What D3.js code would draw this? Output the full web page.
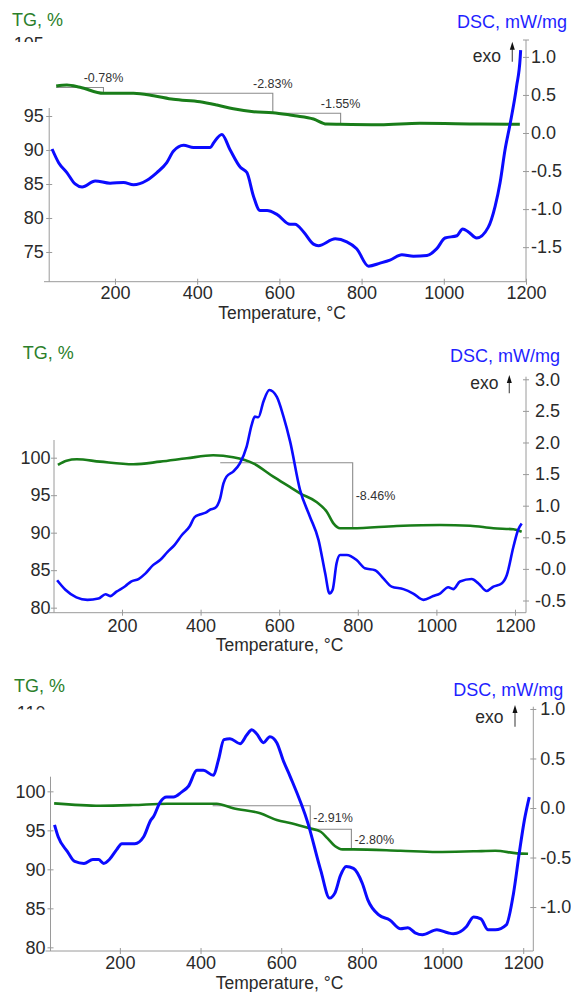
<!DOCTYPE html>
<html>
<head>
<meta charset="utf-8">
<script src="https://cdn.jsdelivr.net/npm/d3@7"></script>
<style>
  body { margin: 0; background: #fff; }
  svg { display: block; font-family: "Liberation Sans", Arial, sans-serif; }
</style>
</head>
<body>
<div id="chart"></div>
<script>
// shared temperature ticks
const tempTicks = [200, 400, 600, 800, 1000, 1200];

// ---- panel 1 ----
const p1TgTicks = [75, 80, 85, 90, 95];
const p1DscTicks = [1.0, 0.5, 0.0, -0.5, -1.0, -1.5];
const p1DscLabels = ["1.0", "0.5", "0.0", "-0.5", "-1.0", "-1.5"];
const p1TG = [[57,99.41],[83,99.56],[115,99.22],[172,98.34],[245,98.34],[294,97.99],[342,97.46],[407,97.10],[448,96.62],[488,96.07],[537,95.63],[584,95.49],[626,95.15],[638,95.04],[683,94.56],[715,93.82],[748,93.78],[845,93.72],[942,93.93],[1088,93.82],[1185,93.78]];
const p1DSC = [[47,-0.21],[63,-0.39],[83,-0.52],[103,-0.67],[120,-0.71],[152,-0.63],[188,-0.66],[221,-0.65],[245,-0.68],[278,-0.62],[302,-0.52],[326,-0.39],[342,-0.24],[367,-0.16],[391,-0.19],[432,-0.19],[440,-0.13],[460,-0.02],[480,-0.22],[505,-0.45],[521,-0.52],[537,-0.83],[553,-1.02],[570,-1.02],[594,-1.07],[626,-1.20],[638,-1.20],[659,-1.30],[683,-1.46],[695,-1.48],[736,-1.39],[764,-1.43],[788,-1.52],[817,-1.75],[845,-1.71],[869,-1.67],[898,-1.60],[926,-1.62],[959,-1.61],[983,-1.52],[1003,-1.38],[1032,-1.35],[1046,-1.26],[1060,-1.30],[1080,-1.38],[1108,-1.24],[1125,-0.96],[1137,-0.65],[1149,-0.22],[1161,0.11],[1177,0.61],[1186,1.0],[1187,1.09]];
const p1Steps = [
  { t0: 57, t1: 172, level: 99.2, to: 98.34, label: "-0.78%" },
  { t0: 172, t1: 584, level: 98.34, to: 95.49, label: "-2.83%" },
  { t0: 584, t1: 749, level: 95.40, to: 93.78, label: "-1.55%" }
];

// ---- panel 2 ----
const p2TgTicks = [80, 85, 90, 95, 100];
const p2DscTicks = [3.0, 2.5, 2.0, 1.5, 1.0, 0.5, 0.0, -0.5];
const p2DscLabels = ["3.0", "2.5", "2.0", "1.5", "1.0", "-0.5", "-0.0", "-0.5"];
const p2TG = [[37,99.03],[59,99.6],[85,99.79],[144,99.47],[229,99.12],[297,99.47],[365,99.92],[432,100.32],[483,100.05],[534,99.25],[585,97.47],[627,96.1],[653,95.25],[695,94.1],[721,92.8],[738,91.25],[755,90.59],[785,90.59],[899,90.89],[1009,91.03],[1086,90.93],[1145,90.59],[1196,90.45],[1217,90.13]];
const p2DSC = [[35,-0.18],[56,-0.33],[84,-0.45],[112,-0.49],[140,-0.47],[158,-0.40],[170,-0.43],[186,-0.36],[209,-0.27],[223,-0.20],[242,-0.16],[260,-0.07],[279,0.06],[297,0.14],[316,0.27],[334,0.38],[353,0.54],[372,0.67],[385,0.82],[398,0.86],[413,0.89],[425,0.94],[436,0.96],[450,1.12],[458,1.35],[466,1.46],[483,1.54],[500,1.67],[517,1.93],[530,2.28],[538,2.41],[547,2.40],[560,2.65],[575,2.83],[594,2.72],[611,2.41],[628,2.01],[653,1.25],[678,0.83],[700,0.46],[717,-0.07],[728,-0.39],[736,-0.33],[746,0.09],[755,0.22],[772,0.22],[797,0.14],[818,0.01],[844,-0.02],[865,-0.15],[886,-0.28],[916,-0.32],[941,-0.39],[967,-0.49],[992,-0.43],[1009,-0.39],[1030,-0.29],[1043,-0.32],[1060,-0.20],[1090,-0.16],[1107,-0.23],[1128,-0.35],[1145,-0.28],[1166,-0.23],[1179,-0.10],[1196,0.35],[1208,0.62],[1217,0.72]];
const p2Steps = [
  { t0: 450, t1: 787, level: 99.33, to: 90.59, label: "-8.46%" }
];

// ---- panel 3 ----
const p3TgTicks = [80, 85, 90, 95, 100];
const p3DscTicks = [1.0, 0.5, 0.0, -0.5, -1.0];
const p3DscLabels = ["1.0", "0.5", "0.0", "-0.5", "-1.0"];
const p3TG = [[37,98.46],[151,98.15],[233,98.24],[316,98.41],[440,98.41],[481,97.82],[548,97.18],[589,96.32],[625,95.90],[670,95.26],[698,94.82],[715,93.97],[733,92.99],[752,92.56],[779,92.56],[896,92.38],[986,92.22],[1077,92.31],[1131,92.38],[1185,92.05],[1212,92.0]];
const p3DSC = [[38,-0.17],[47,-0.29],[70,-0.44],[88,-0.54],[111,-0.56],[133,-0.52],[147,-0.52],[160,-0.56],[174,-0.52],[192,-0.42],[205,-0.36],[219,-0.36],[237,-0.36],[259,-0.29],[277,-0.12],[283,-0.09],[300,0.06],[316,0.11],[333,0.11],[353,0.16],[370,0.22],[391,0.38],[407,0.38],[432,0.33],[444,0.48],[458,0.69],[473,0.70],[498,0.65],[515,0.74],[527,0.79],[539,0.75],[556,0.66],[572,0.72],[589,0.66],[605,0.48],[622,0.32],[666,-0.15],[698,-0.63],[720,-0.91],[733,-0.86],[747,-0.68],[761,-0.59],[779,-0.61],[801,-0.76],[815,-0.93],[842,-1.08],[869,-1.13],[896,-1.22],[914,-1.21],[932,-1.26],[950,-1.28],[986,-1.23],[1013,-1.26],[1027,-1.27],[1059,-1.20],[1077,-1.10],[1095,-1.12],[1113,-1.23],[1131,-1.23],[1158,-1.18],[1176,-0.86],[1190,-0.46],[1203,-0.12],[1215,0.11]];
const p3Steps = [
  { t0: 430, t1: 672, level: 98.15, to: 95.13, label: "-2.91%" },
  { t0: 672, t1: 774, level: 95.13, to: 92.56, label: "-2.80%" }
];

// colours
const blue = "#0b0bff";
const green = "#197d19";
const axisColor = "#9a9a9a";
const textColor = "#2a2a2a";

// layout of every panel (pixels)
const panels = [
  { tg: p1TG, dsc: p1DSC, steps: p1Steps, tgTicks: p1TgTicks, dscTicks: p1DscTicks, dscLabels: p1DscLabels,
    xDom: [40, 1200], xRange: [49.2, 526], tgDom: [70.63, 106.18], dscDom: [-1.954, 1.222], yRange: [281.7, 40],
    leftTop: 108, xStart: 44, xLabelGap: 5, leftGap: 5.5, rightGap: 5, stepLabel: "above", rightTopTick: true,
    cut: { text: "105", top: 37.5, bottom: 42 },
    tgTitle: [12, 26], dscTitle: [567, 27.5], exo: [501, 62], arrow: [512.3, 41.7, 61.7], xTitle: [282, 319] },
  { tg: p2TG, dsc: p2DSC, steps: p2Steps, tgTicks: p2TgTicks, dscTicks: p2DscTicks, dscLabels: p2DscLabels,
    xDom: [27, 1228], xRange: [54, 526], tgDom: [79.33, 110.8], dscDom: [-0.693, 3.041], yRange: [612.7, 376.7],
    leftTop: 440, xStart: 49, xLabelGap: 6.5, leftGap: 3.5, rightGap: 9, stepLabel: "right", rightTopTick: false,
    cut: null,
    tgTitle: [22.7, 359.3], dscTitle: [560, 362.3], exo: [498.5, 389], arrow: [509.3, 375, 393.3], xTitle: [279.5, 650.5] },
  { tg: p3TG, dsc: p3DSC, steps: p3Steps, tgTicks: p3TgTicks, dscTicks: p3DscTicks, dscLabels: p3DscLabels,
    xDom: [28, 1225], xRange: [50.5, 533.3], tgDom: [79.53, 110.85], dscDom: [-1.444, 1.023], yRange: [951, 706.7],
    leftTop: 776.7, xStart: 45.5, xLabelGap: 4.8, leftGap: 5, rightGap: 7, stepLabel: "right", rightTopTick: false,
    cut: { text: "110", top: 706.5, bottom: 709.5 },
    tgTitle: [14, 691.7], dscTitle: [563.3, 696], exo: [503.5, 722.5], arrow: [515, 705, 726.7], xTitle: [279.5, 988.6] }
];

const svg = d3.select("#chart")
    .append("svg")
    .attr("width", 571)
    .attr("height", 992);

svg.append("defs");

panels.forEach(function(p, idx) {
    const x = d3.scaleLinear().domain(p.xDom).range(p.xRange);
    const yTG = d3.scaleLinear().domain(p.tgDom).range(p.yRange);
    const yDSC = d3.scaleLinear().domain(p.dscDom).range(p.yRange);
    const bottom = p.yRange[0], top = p.yRange[1];
    const left = p.xRange[0], right = p.xRange[1];
    const g = svg.append("g");

    // x axis (ticks cross the line)
    const gx = g.append("g")
        .attr("transform", `translate(0,${bottom})`)
        .call(d3.axisBottom(x).tickValues(tempTicks).tickSize(3).tickFormat(d3.format("d")));
    gx.select(".domain").remove();
    gx.append("line").attr("x1", p.xStart).attr("x2", right).attr("stroke", axisColor);
    gx.selectAll(".tick line").attr("y1", -3).attr("y2", 3).attr("stroke", axisColor);
    gx.selectAll(".tick text").attr("y", p.xLabelGap).attr("fill", textColor);
    gx.attr("font-size", 18).attr("font-family", null);

    // left TG axis
    const gl = g.append("g")
        .attr("transform", `translate(${left},0)`)
        .call(d3.axisLeft(yTG).tickValues(p.tgTicks).tickSize(3).tickFormat(d3.format("d")));
    gl.select(".domain").remove();
    gl.append("line").attr("y1", p.leftTop).attr("y2", bottom).attr("stroke", axisColor);
    gl.selectAll(".tick line").attr("x1", -3).attr("x2", 3).attr("stroke", axisColor);
    gl.selectAll(".tick text").attr("x", -p.leftGap).attr("fill", textColor);
    gl.attr("font-size", 18).attr("font-family", null);

    // right DSC axis
    const gr = g.append("g")
        .attr("transform", `translate(${right},0)`)
        .call(d3.axisRight(yDSC).tickValues(p.dscTicks).tickSize(3)
            .tickFormat(d => p.dscLabels[p.dscTicks.indexOf(d)]));
    gr.select(".domain").remove();
    gr.append("line").attr("y1", top).attr("y2", bottom).attr("stroke", axisColor);
    gr.selectAll(".tick line").attr("x1", -3).attr("x2", 3).attr("stroke", axisColor);
    gr.selectAll(".tick text").attr("x", p.rightGap).attr("fill", textColor);
    gr.attr("font-size", 18).attr("font-family", null);
    if (p.rightTopTick) {
        gr.append("line").attr("x1", -3).attr("x2", 3).attr("y1", top).attr("y2", top).attr("stroke", axisColor);
    }

    // half hidden top tick label
    if (p.cut) {
        const cid = "cut" + idx;
        svg.select("defs").append("clipPath").attr("id", cid)
            .append("rect").attr("x", 0).attr("y", p.cut.top - 1).attr("width", 80).attr("height", p.cut.bottom - p.cut.top + 1);
        g.append("text")
            .attr("clip-path", `url(#${cid})`)
            .attr("x", left - p.leftGap)
            .attr("y", p.cut.top + 12.9)
            .attr("text-anchor", "end")
            .attr("font-size", 18)
            .attr("fill", textColor)
            .text(p.cut.text);
    }

    // step brackets of the TG curve
    p.steps.forEach(function(s) {
        g.append("path")
            .attr("d", `M${x(s.t0)},${yTG(s.level)}H${x(s.t1)}V${yTG(s.to)}`)
            .attr("fill", "none")
            .attr("stroke", "#8c8c8c")
            .attr("stroke-width", 1.1);
        const lab = g.append("text")
            .attr("font-size", 12.5)
            .attr("fill", "#333")
            .text(s.label);
        if (p.stepLabel === "above") {
            lab.attr("x", x(s.t1)).attr("y", yTG(s.level) - 5.5).attr("text-anchor", "middle");
        } else {
            lab.attr("x", x(s.t1) + 3).attr("y", (yTG(s.level) + yTG(s.to)) / 2 + 4.5);
        }
    });

    // TG curve
    g.append("path")
        .datum(p.tg)
        .attr("fill", "none")
        .attr("stroke", green)
        .attr("stroke-width", idx === 0 ? 3 : 2.6)
        .attr("stroke-linejoin", "round")
        .attr("d", d3.line().x(d => x(d[0])).y(d => yTG(d[1])).curve(d3.curveMonotoneX));

    // DSC curve
    g.append("path")
        .datum(p.dsc)
        .attr("fill", "none")
        .attr("stroke", blue)
        .attr("stroke-width", idx === 1 ? 2.6 : 3)
        .attr("stroke-linejoin", "round")
        .attr("d", d3.line().x(d => x(d[0])).y(d => yDSC(d[1])).curve(d3.curveMonotoneX));

    // titles
    g.append("text").attr("x", p.tgTitle[0]).attr("y", p.tgTitle[1])
        .attr("font-size", 18).attr("fill", "#2b7f2b").text("TG, %");
    g.append("text").attr("x", p.dscTitle[0]).attr("y", p.dscTitle[1])
        .attr("text-anchor", "end").attr("font-size", 18).attr("fill", "#1f1fff").text("DSC, mW/mg");
    g.append("text").attr("x", p.exo[0]).attr("y", p.exo[1])
        .attr("text-anchor", "end").attr("font-size", 17.5).attr("fill", textColor).text("exo");
    g.append("line")
        .attr("x1", p.arrow[0]).attr("x2", p.arrow[0])
        .attr("y1", p.arrow[1] + 5).attr("y2", p.arrow[2])
        .attr("stroke", "#555").attr("stroke-width", 1.2);
    g.append("path")
        .attr("d", `M${p.arrow[0]},${p.arrow[1]}L${p.arrow[0] - 2.5},${p.arrow[1] + 8}L${p.arrow[0] + 2.5},${p.arrow[1] + 8}Z`)
        .attr("fill", "#111");
    g.append("text").attr("x", p.xTitle[0]).attr("y", p.xTitle[1])
        .attr("text-anchor", "middle").attr("font-size", 17.5).attr("fill", textColor).text("Temperature, °C");
});
</script>
</body>
</html>
